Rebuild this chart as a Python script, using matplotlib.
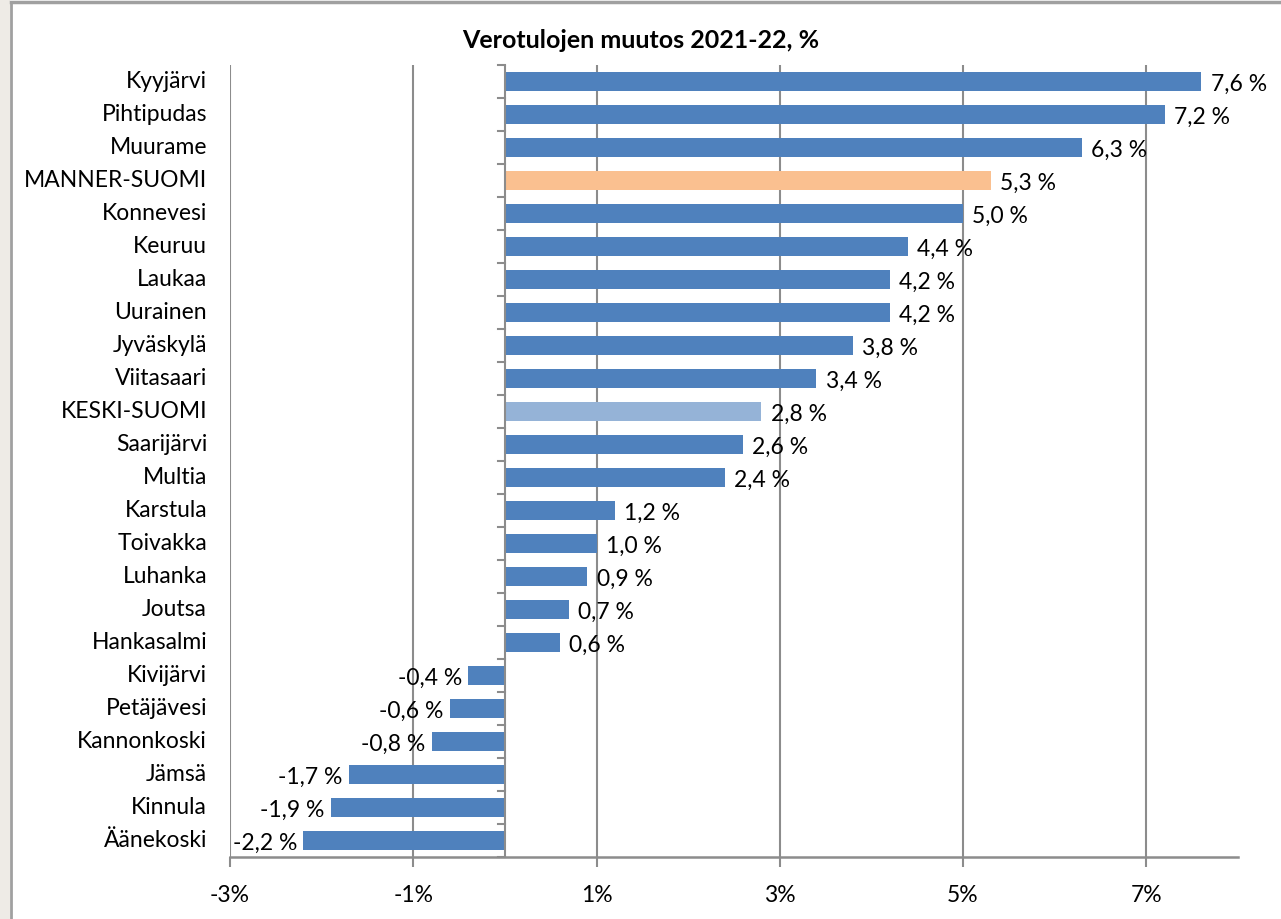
import matplotlib.pyplot as plt
from matplotlib.patches import Rectangle
from matplotlib.lines import Line2D

plt.rcParams['font.family'] = ['Lato', 'DejaVu Sans']

kunnat = ["Kyyjärvi", "Pihtipudas", "Muurame", "MANNER-SUOMI", "Konnevesi", "Keuruu",
          "Laukaa", "Uurainen", "Jyväskylä", "Viitasaari", "KESKI-SUOMI", "Saarijärvi",
          "Multia", "Karstula", "Toivakka", "Luhanka", "Joutsa", "Hankasalmi",
          "Kivijärvi", "Petäjävesi", "Kannonkoski", "Jämsä", "Kinnula", "Äänekoski"]
muutos = [7.6, 7.2, 6.3, 5.3, 5.0, 4.4, 4.2, 4.2, 3.8, 3.4, 2.8, 2.6,
          2.4, 1.2, 1.0, 0.9, 0.7, 0.6, -0.4, -0.6, -0.8, -1.7, -1.9, -2.2]
x_ticks = [-3, -1, 1, 3, 5, 7]

BLUE = "#4F81BD"
colors = []
for k in kunnat:
    if k == "MANNER-SUOMI":
        colors.append("#FAC090")
    elif k == "KESKI-SUOMI":
        colors.append("#95B3D7")
    else:
        colors.append(BLUE)

GRID = "#8C8C8C"
FS = 16.5

fig = plt.figure(figsize=(12.81, 9.19), dpi=100)
W, H = 1281, 919
ax = fig.add_axes([230 / W, 1 - 857 / H, (1238 - 230) / W, (857 - 65) / H])

y = list(range(len(kunnat)))
ax.barh(y, muutos, height=0.6, color=colors, zorder=3)
ax.set_ylim(len(kunnat) - 0.5, -0.5)
ax.set_xlim(-3, 8)

ax.set_xticks(x_ticks)
ax.set_xticklabels([f"{t}%" for t in x_ticks], fontsize=FS)
ax.grid(axis="x", color=GRID, linewidth=1.5, zorder=0)
ax.tick_params(axis="x", length=7, width=1.5, color=GRID, pad=13)

ax.set_yticks([])
for s in ["top", "right", "left"]:
    ax.spines[s].set_visible(False)
ax.spines["bottom"].set_color(GRID)
ax.spines["bottom"].set_linewidth(1.8)

# zero axis with category ticks
ax.axvline(0, color=GRID, linewidth=1.5, zorder=4)
for i in range(len(kunnat) + 1):
    ax.plot([-0.07, 0], [i - 0.5, i - 0.5], color=GRID, linewidth=1.5, zorder=4,
            clip_on=False)

for i, (k, v) in enumerate(zip(kunnat, muutos)):
    ax.text(-3.25, i, k, ha="right", va="center", fontsize=FS)
    lbl = f"{v:.1f}".replace(".", ",") + " %"
    if v >= 0:
        ax.text(v + 0.1, i + 0.08, lbl, ha="left", va="center", fontsize=FS, zorder=5)
    else:
        ax.text(v - 0.07, i + 0.08, lbl, ha="right", va="center", fontsize=FS, zorder=5)

fig.text(0.5, 1 - 41 / H, "Verotulojen muutos 2021-22, %", ha="center", va="center",
         fontsize=18, fontweight="bold")

# outer frame
fig.patches.append(Rectangle((0, 0), 10 / W, 1, transform=fig.transFigure,
                             facecolor="#EEEBE6", edgecolor="none"))
fig.lines.append(Line2D([10.5 / W, 10.5 / W], [0, 1 - 2 / H], transform=fig.transFigure,
                        color="#A0A0A0", linewidth=2))
fig.lines.append(Line2D([10.5 / W, 1], [1 - 2 / H, 1 - 2 / H], transform=fig.transFigure,
                        color="#A0A0A0", linewidth=2.5))

fig.savefig("out.png", dpi=100)
